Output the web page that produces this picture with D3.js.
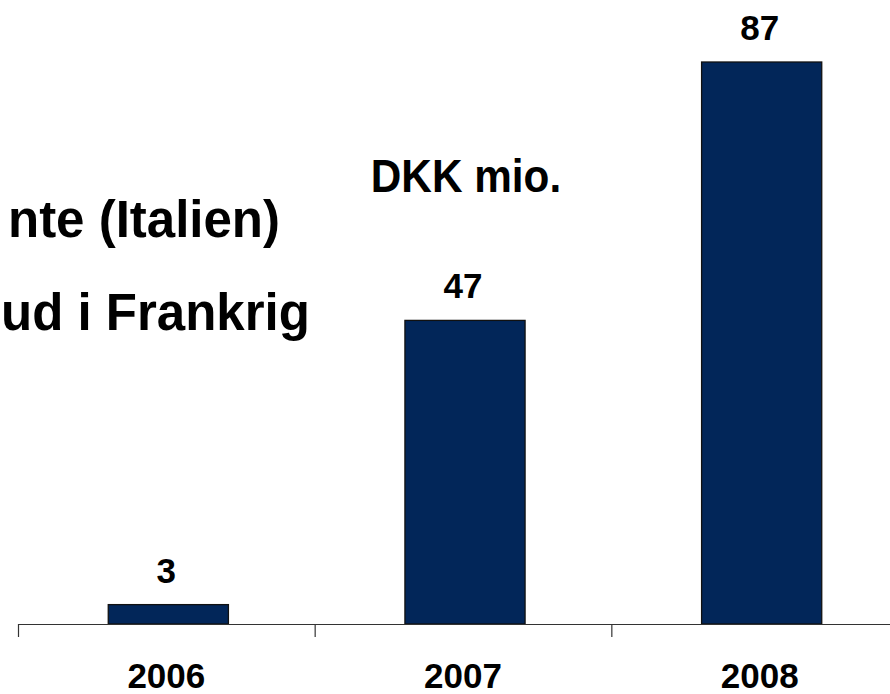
<!DOCTYPE html>
<html lang="da">
<head>
    <meta charset="UTF-8">
    <title>DKK mio.</title>
    <script src="https://d3js.org/d3.v7.min.js"></script>
    <style>
        body { margin: 0; background: #fff; }
        svg { display: block; }
        text {
            font-family: "Liberation Sans", Arial, Helvetica, sans-serif;
            font-weight: bold;
            fill: #000;
        }
        .value-label, .year-label { font-size: 35px; }
        .big-label { font-size: 51px; }
        .unit-label { font-size: 46px; }
    </style>
</head>
<body>
<div id="chart"></div>
<script>
    // data
    const years = ["2006", "2007", "2008"];
    const values = [3, 47, 87];
    const unitText = "DKK mio.";
    const sideTexts = ["nte (Italien)", "ud i Frankrig"];

    const W = 890, H = 694;
    const baseY = 624;

    const svg = d3.select("#chart").append("svg")
        .attr("width", W)
        .attr("height", H);

    const data = years.map((y, i) => ({ year: y, value: values[i] }));

    // category bands: ticks sit on band edges, labels in the middle
    const xCat = d3.scaleBand().domain(years).range([18, 908]).padding(0);
    const xBar = d3.scaleBand().domain(years).range([20, 910])
        .paddingInner(0.595).paddingOuter(0.2975);
    const y = d3.scaleLinear()
        .domain([0, d3.max(values)])
        .range([baseY, 62]);

    // bars
    svg.selectAll("rect.bar")
        .data(data)
        .join("rect")
        .attr("class", "bar")
        .attr("x", d => xBar(d.year))
        .attr("y", d => y(d.value))
        .attr("width", xBar.bandwidth())
        .attr("height", d => y(0) - y(d.value))
        .attr("fill", "#022659")
        .attr("stroke", "#111")
        .attr("stroke-width", 1.3);

    // axis line + ticks on band edges
    svg.append("line")
        .attr("x1", xCat.range()[0])
        .attr("x2", xCat.range()[1])
        .attr("y1", y(0) + 0.5)
        .attr("y2", y(0) + 0.5)
        .attr("stroke", "#333")
        .attr("stroke-width", 1.2);

    const tickPos = years.map(d => xCat(d)).concat([xCat.range()[1]]);
    svg.selectAll("line.tick")
        .data(tickPos)
        .join("line")
        .attr("class", "tick")
        .attr("x1", d => d + 0.5)
        .attr("x2", d => d + 0.5)
        .attr("y1", y(0))
        .attr("y2", y(0) + 13)
        .attr("stroke", "#333")
        .attr("stroke-width", 1.2);

    // year labels
    const xAxis = d3.axisBottom(xCat).tickSize(0).tickPadding(0);
    const axisG = svg.append("g")
        .attr("transform", `translate(0, ${y(0)})`)
        .call(xAxis);
    axisG.select(".domain").remove();
    axisG.selectAll(".tick text")
        .attr("class", "year-label")
        .attr("dy", null)
        .attr("y", 64)
        .attr("font-size", null)
        .attr("font-family", null);

    // values above bars
    svg.selectAll("text.value-label")
        .data(data)
        .join("text")
        .attr("class", "value-label")
        .attr("text-anchor", "middle")
        .attr("x", d => xCat(d.year) + xCat.bandwidth() / 2)
        .attr("y", d => y(d.value) - 22)
        .text(d => d.value);

    // unit text (slightly condensed)
    svg.append("g")
        .attr("transform", "translate(466, 192) scale(0.92, 1)")
        .append("text")
        .attr("class", "unit-label")
        .attr("text-anchor", "middle")
        .text(unitText);

    // text on the left, from a box that continues outside the frame
    svg.append("text")
        .attr("class", "big-label")
        .attr("text-anchor", "end")
        .attr("x", 280)
        .attr("y", 237)
        .text(sideTexts[0]);
    svg.append("text")
        .attr("class", "big-label")
        .attr("text-anchor", "start")
        .attr("x", 1)
        .attr("y", 330)
        .text(sideTexts[1]);
</script>
</body>
</html>
